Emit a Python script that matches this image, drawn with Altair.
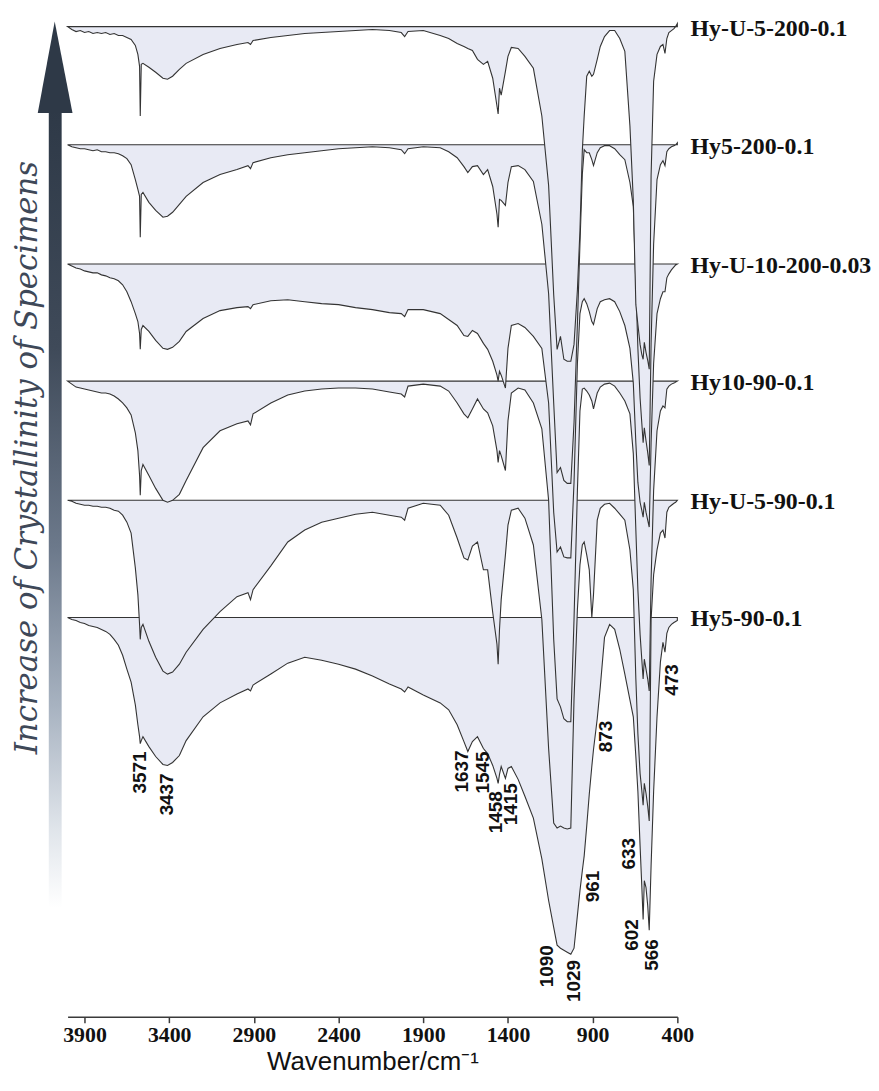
import altair as alt
import pandas as pd

# ---------------- data ----------------
wavenumbers = [4000, 3975, 3950, 3925, 3900, 3875, 3850, 3825, 3800, 3775,
               3750, 3725, 3700, 3675, 3650, 3625, 3600, 3585, 3575, 3571,
               3565, 3555, 3520, 3480, 3437, 3410, 3380, 3340, 3300, 3200,
               3100, 3000, 2935, 2920, 2905, 2800, 2700, 2600, 2500, 2400,
               2300, 2200, 2100, 2030, 2010, 1990, 1900, 1800, 1750, 1700,
               1660, 1637, 1610, 1580, 1545, 1520, 1490, 1465, 1458, 1450,
               1440, 1415, 1400, 1380, 1340, 1300, 1250, 1200, 1160, 1130,
               1110, 1090, 1070, 1050, 1029, 1010, 990, 975, 961, 950,
               935, 920, 905, 895, 873, 855, 830, 800, 770, 740,
               710, 680, 660, 645, 633, 620, 610, 602, 595, 585,
               575, 566, 555, 540, 520, 500, 485, 473, 462, 450,
               435, 420, 410, 400]

sample_names = ["Hy-U-5-200-0.1", "Hy5-200-0.1", "Hy-U-10-200-0.03",
                "Hy10-90-0.1", "Hy-U-5-90-0.1", "Hy5-90-0.1"]
# vertical stacking offset of each spectrum (arbitrary transmittance units)
offsets = [15, 134, 254, 372, 492, 610]

# band depth below each spectrum's own baseline (same units)
depth_hy_u_5_200 = [0, 3, 5, 4, 6, 5, 7, 6, 7, 6,
                    8, 7, 9, 9, 11, 13, 19, 28, 40, 90,
                    38, 37, 41, 46, 52, 53, 50, 43, 37, 28,
                    22, 18, 16, 18, 14, 11, 9, 7, 6, 5,
                    4, 3, 4, 6, 10, 5, 4, 9, 12, 17,
                    20, 22, 24, 33, 38, 35, 52, 80, 88, 62,
                    69, 45, 30, 21, 22, 30, 42, 90, 160, 270,
                    325, 312, 335, 337, 337, 320, 265, 205, 125, 90,
                    50, 45, 50, 48, 33, 20, 10, 4, 4, 12,
                    25, 100, 175, 280, 300, 320, 330, 335, 318, 328,
                    336, 345, 150, 55, 28, 20, 18, 27, 12, 6,
                    4, 2, 0, -3]
depth_hy5_200 = [0, 2, 3, 4, 4, 5, 6, 5, 7, 7,
                 8, 8, 9, 11, 14, 20, 35, 45, 52, 93,
                 50, 48, 58, 66, 73, 72, 68, 60, 52, 38,
                 30, 25, 21, 24, 18, 13, 10, 8, 6, 4,
                 3, 2, 3, 5, 9, 4, 2, 3, 7, 13,
                 22, 28, 22, 21, 30, 25, 42, 70, 83, 55,
                 56, 61, 38, 22, 21, 25, 37, 80, 150, 260,
                 330, 325, 338, 341, 341, 280, 180, 100, 30, 5,
                 8, 8, 15, 21, 8, 3, 1, 1, 4, 10,
                 15, 38, 62, 140, 205, 255, 280, 300, 285, 298,
                 310, 323, 200, 100, 35, 20, 16, 21, 7, 4,
                 2, 1, 0, -2]
depth_hy_u_10_200 = [0, 2, 4, 5, 7, 8, 9, 9, 11, 12,
                     14, 15, 17, 21, 28, 38, 50, 58, 70, 86,
                     66, 62, 68, 77, 85, 86, 84, 78, 68, 55,
                     47, 44, 43, 45, 41, 37, 36, 38, 40, 41,
                     44, 46, 49, 50, 53, 46, 46, 50, 56, 62,
                     72, 73, 67, 70, 80, 86, 98, 112, 118, 108,
                     112, 125, 85, 62, 60, 64, 73, 85, 140, 250,
                     290, 285, 295, 296, 296, 220, 100, 50, 38, 35,
                     40, 48, 58, 61, 45, 38, 36, 35, 38, 48,
                     62, 85, 120, 180, 220, 240, 248, 255, 240, 250,
                     258, 265, 180, 100, 50, 35, 28, 28, 14, 10,
                     6, 3, 1, 0]
depth_hy10_90 = [0, 3, 6, 7, 8, 9, 10, 11, 12, 12,
                 13, 15, 18, 22, 27, 34, 52, 70, 95, 115,
                 90, 84, 95, 108, 120, 122, 120, 114, 100, 67,
                 50, 43, 40, 44, 33, 22, 14, 10, 8, 7,
                 7, 8, 11, 13, 16, 5, 3, 5, 10, 22,
                 33, 37, 28, 18, 28, 32, 45, 70, 82, 70,
                 75, 90, 40, 12, 7, 9, 22, 48, 120, 260,
                 320, 328, 340, 343, 343, 240, 110, 30, 8, 7,
                 10, 14, 20, 28, 12, 6, 3, 2, 5, 12,
                 20, 33, 73, 150, 210, 255, 280, 300, 280, 290,
                 300, 312, 200, 110, 50, 30, 25, 27, 8, 5,
                 3, 2, 1, 0]
depth_hy_u_5_90 = [0, 1, 3, 4, 5, 5, 6, 6, 7, 7,
                   8, 10, 11, 15, 22, 33, 68, 95, 125, 140,
                   128, 125, 142, 158, 172, 175, 173, 165, 153, 130,
                   112, 97, 93, 100, 90, 66, 42, 30, 22, 18,
                   14, 12, 15, 17, 20, 8, 3, 5, 15, 38,
                   58, 60, 46, 42, 70, 70, 113, 145, 165, 130,
                   100, 55, 25, 10, 8, 18, 45, 120, 250, 325,
                   330, 328, 330, 331, 330, 200, 110, 65, 45, 42,
                   55, 70, 118, 95, 20, 8, 4, 3, 8, 14,
                   20, 50, 90, 180, 235, 275, 292, 307, 285, 295,
                   308, 323, 120, 75, 50, 33, 30, 38, 12, 7,
                   5, 3, 2, 0]
depth_hy5_90 = [0, 2, 3, 5, 6, 8, 9, 10, 12, 14,
                17, 22, 28, 38, 52, 65, 88, 108, 120, 127,
                124, 120, 130, 140, 148, 149, 146, 139, 124, 100,
                86, 77, 72, 74, 68, 57, 46, 40, 43, 47,
                52, 59, 67, 72, 75, 70, 78, 86, 93, 108,
                125, 135, 125, 120, 132, 137, 149, 162, 167, 158,
                150, 162, 152, 150, 163, 180, 202, 243, 285, 312,
                330, 333, 335, 337, 339, 333, 300, 275, 255, 240,
                210, 178, 150, 133, 102, 70, 20, 7, 12, 32,
                57, 83, 100, 140, 175, 230, 270, 304, 265, 272,
                290, 315, 250, 175, 100, 45, 25, 35, 16, 10,
                7, 5, 4, 3]

depths = [depth_hy_u_5_200, depth_hy5_200, depth_hy_u_10_200,
          depth_hy10_90, depth_hy_u_5_90, depth_hy5_90]

# peak annotations (text, wavenumber position, vertical position of text top)
peak_text = ["3571", "3437", "1637", "1545", "1458", "1415", "1090",
             "1029", "961", "873", "633", "602", "566", "473"]
peak_x = [3572, 3414, 1673, 1550, 1468, 1380, 1169, 1011, 899, 823, 688, 665, 547, 430]
peak_y = [745, 767, 744, 745, 785, 777, 940, 955, 865, 714, 832, 914, 934, 657]

tick_values = [3900, 3400, 2900, 2400, 1900, 1400, 900, 400]
label_x = 322          # wavenumber position of the sample names (right of 400)
side_title = "Increase of Crystallinity of Specimens"

# decorative arrow (in the same data units)
arrow_head_x = [4176, 4076, 3971]
arrow_head_y = [102, 10, 102]
arrow_shaft_x = [4111, 4035]
arrow_shaft_y = [97, 902]

# ---------------- chart ----------------
xscale = alt.Scale(domain=[400, 4000], reverse=True, nice=False, zero=False)
yscale = alt.Scale(domain=[0, 1012], reverse=True, nice=False, zero=False)
xaxis = alt.Axis(values=tick_values, format="d", grid=False,
                 domainColor="#3a3a3a", domainWidth=1.5,
                 tickColor="#3a3a3a", tickWidth=1.5, tickSize=6,
                 labelFont="Liberation Serif", labelFontWeight="bold",
                 labelFontSize=22, labelColor="#111111", labelPadding=2,
                 labelFlush=False, labelOverlap=False,
                 title="Wavenumber/cm⁻¹", titleFont="Liberation Sans",
                 titleFontSize=26, titleFontWeight="normal",
                 titleColor="#111111", titlePadding=3)

layers = []
for k in reversed(range(len(sample_names))):
    df = pd.DataFrame({
        "wn": wavenumbers,
        "y": [offsets[k] + d for d in depths[k]],
        "base": [offsets[k]] * len(wavenumbers),
    })
    layers.append(
        alt.Chart(df).mark_area(fill="#e8eaf4", stroke="#333333",
                                strokeWidth=1.1, interpolate="linear")
        .encode(x=alt.X("wn:Q", scale=xscale, axis=xaxis),
                y=alt.Y("y:Q", scale=yscale, axis=None),
                y2="base:Q")
    )

# arrow shaft drawn as a gradient-filled area (x = two edges, y..y2 = top..bottom)
shaft_df = pd.DataFrame({"sx": arrow_shaft_x,
                         "sy1": [arrow_shaft_y[0]] * 2,
                         "sy2": [arrow_shaft_y[1]] * 2})
gradient = alt.LinearGradient(
    gradient="linear",
    stops=[alt.GradientStop(color="#2e3947", offset=0),
           alt.GradientStop(color="#3f4a59", offset=0.3),
           alt.GradientStop(color="#6c798b", offset=0.55),
           alt.GradientStop(color="#a8b3c1", offset=0.75),
           alt.GradientStop(color="#dfe4ea", offset=0.9),
           alt.GradientStop(color="#ffffff", offset=1)],
    x1=0, x2=0, y1=0, y2=1)
layers.append(
    alt.Chart(shaft_df).mark_area(fill=gradient, interpolate="linear")
    .encode(x=alt.X("sx:Q", scale=xscale, axis=xaxis),
            y=alt.Y("sy1:Q", scale=yscale, axis=None), y2="sy2:Q")
)

head_df = pd.DataFrame({"hx": arrow_head_x, "hy": arrow_head_y,
                        "hy2": [arrow_head_y[0]] * 3})
layers.append(
    alt.Chart(head_df).mark_area(fill="#2e3947", interpolate="linear")
    .encode(x=alt.X("hx:Q", scale=xscale, axis=xaxis),
            y=alt.Y("hy:Q", scale=yscale, axis=None), y2="hy2:Q")
)

labels_df = pd.DataFrame({"name": sample_names,
                          "lx": [label_x] * len(sample_names),
                          "ly": [o + 2 for o in offsets]})
layers.append(
    alt.Chart(labels_df).mark_text(align="left", baseline="middle",
                                   font="Liberation Serif", fontWeight="bold",
                                   fontSize=24, color="#111111")
    .encode(x=alt.X("lx:Q", scale=xscale, axis=xaxis),
            y=alt.Y("ly:Q", scale=yscale, axis=None), text="name:N")
)

peaks_df = pd.DataFrame({"t": peak_text, "px": peak_x, "py": peak_y})
layers.append(
    alt.Chart(peaks_df).mark_text(angle=270, align="right", baseline="middle",
                                  font="Liberation Sans", fontWeight="bold",
                                  fontSize=19, color="#111111")
    .encode(x=alt.X("px:Q", scale=xscale, axis=xaxis),
            y=alt.Y("py:Q", scale=yscale, axis=None), text="t:N")
)

side_df = pd.DataFrame({"st": [side_title], "sx": [4182], "sy": [449]})
layers.append(
    alt.Chart(side_df).mark_text(angle=270, align="center", baseline="alphabetic",
                                 font="DejaVu Serif", fontStyle="italic",
                                 fontSize=31, color="#3e4858")
    .encode(x=alt.X("sx:Q", scale=xscale, axis=xaxis),
            y=alt.Y("sy:Q", scale=yscale, axis=None), text="st:N")
)

chart = (alt.layer(*layers)
         .properties(width=614, height=1012,
                     padding={"left": 60, "top": 0, "right": 195, "bottom": 58},
                     autosize=alt.AutoSizeParams(type="none"))
         .configure_view(strokeOpacity=0, strokeWidth=0)
         .configure_axis(grid=False))

chart.save("out.html", embed_options={"renderer": "svg", "actions": False})
